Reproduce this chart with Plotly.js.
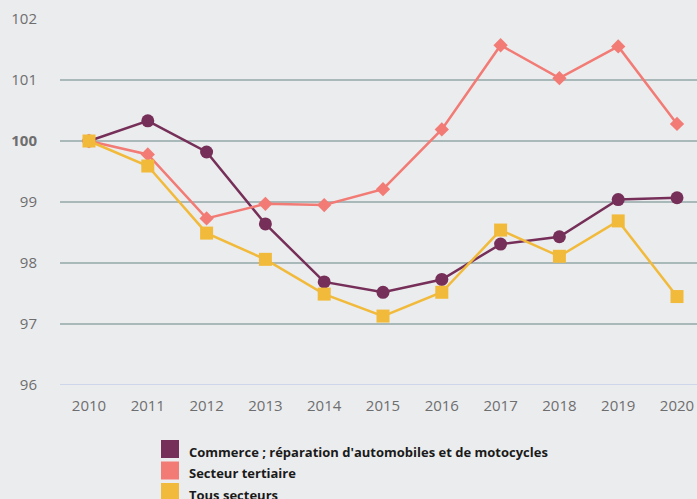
<!DOCTYPE html>
<html>
<head>
<meta charset="utf-8">
<script src="https://cdn.plot.ly/plotly-3.0.1.min.js"></script>
<style>
html,body{margin:0;padding:0;background:#ebecee;}
#chart{width:697px;height:499px;}
</style>
</head>
<body>
<div id="chart"></div>
<script>
const years = [2010, 2011, 2012, 2013, 2014, 2015, 2016, 2017, 2018, 2019, 2020];
const commerce = [100, 100.33, 99.82, 98.64, 97.69, 97.52, 97.73, 98.31, 98.43, 99.04, 99.07];
const tertiaire = [100, 99.78, 98.73, 98.97, 98.95, 99.21, 100.19, 101.57, 101.03, 101.55, 100.28];
const tous = [100, 99.59, 98.49, 98.06, 97.49, 97.13, 97.52, 98.54, 98.11, 98.69, 97.45];
const seriesNames = ["Commerce ; réparation d'automobiles et de motocycles", "Secteur tertiaire", "Tous secteurs"];
const seriesColors = ["#762f58", "#f27b75", "#f1ba3b"];
const yTicks = [96, 97, 98, 99, 100, 101, 102];
const yTickText = ["96", "97", "98", "99", "<b>100</b>", "101", "102"];

const traces = [
  {x: years, y: commerce, name: seriesNames[0], mode: 'lines+markers',
   line: {color: seriesColors[0], width: 2.5}, marker: {symbol: 'circle', size: 13, color: seriesColors[0]}},
  {x: years, y: tertiaire, name: seriesNames[1], mode: 'lines+markers',
   line: {color: seriesColors[1], width: 2.5}, marker: {symbol: 'diamond', size: 11, color: seriesColors[1]}},
  {x: years, y: tous, name: seriesNames[2], mode: 'lines+markers',
   line: {color: seriesColors[2], width: 2.5}, marker: {symbol: 'square', size: 13, color: seriesColors[2]}}
].map(t => Object.assign(t, {cliponaxis: false, showlegend: false}));

// Legend drawn as shapes + annotations
const shapes = [];
const annotations = [];
seriesNames.forEach((n, i) => {
  const top = 440 + i * 21.5;
  shapes.push({type: 'rect', xref: 'paper', yref: 'paper', xsizemode: 'pixel', ysizemode: 'pixel',
    xanchor: 0, yanchor: 0, x0: 101, x1: 119, y0: -(top - 385), y1: -(top + 18 - 385),
    fillcolor: seriesColors[i], line: {width: 0}});
  annotations.push({xref: 'paper', yref: 'paper', x: 0, y: 0, xanchor: 'left', yanchor: 'middle',
    xshift: 127, yshift: -(top + 11.5 - 385), showarrow: false, text: '<b>' + n + '</b>',
    font: {family: 'Open Sans', size: 13, color: '#1a1a1a'}});
});

const layout = {
  width: 697, height: 499,
  paper_bgcolor: '#ebecee', plot_bgcolor: '#ebecee',
  margin: {l: 60, r: 0, t: 19, b: 114},
  showlegend: false,
  xaxis: {range: [2009.507, 2020.34], tickvals: years, ticktext: years.map(String),
    showgrid: false, zeroline: false, showline: false, ticks: '',
    tickfont: {family: 'Open Sans', size: 15, color: '#6e6e6e'}, ticklabelstandoff: 10},
  yaxis: {range: [96, 102], tickvals: yTicks, ticktext: yTickText,
    showgrid: true, gridcolor: '#a9b9b9', gridwidth: 2, zeroline: false, showline: false, ticks: '',
    tickfont: {family: 'Open Sans', size: 15, color: '#6e6e6e'}, ticklabelstandoff: 22},
  shapes: shapes.concat([{type: 'line', xref: 'paper', yref: 'y', x0: 0, x1: 1, y0: 96, y1: 96,
    line: {color: '#cdd6ea', width: 2}}]),
  annotations: annotations
};

Plotly.newPlot('chart', traces, layout, {displayModeBar: false, staticPlot: true});
</script>
</body>
</html>
